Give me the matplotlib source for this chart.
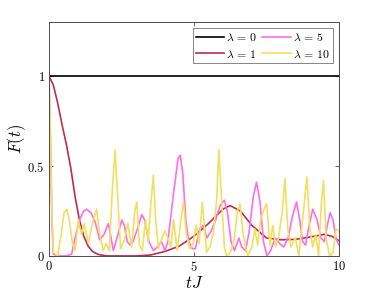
import numpy as np
import matplotlib
matplotlib.use('Agg')
import matplotlib.pyplot as plt
from matplotlib.ticker import FuncFormatter

plt.rcParams['mathtext.fontset'] = 'cm'
plt.rcParams['font.family'] = ['DejaVu Serif']

#%% Data

# lambda = 0 : flat at 1
t_l0 = [0, 10]
f_l0 = [1, 1]

# lambda = 1
t_l1 = [0, 0.15, 0.3, 0.45, 0.6, 0.75, 0.9, 1.05, 1.2, 1.35, 1.5, 1.7, 2.0, 2.5, 3.0, 3.5,
        4.0, 4.5, 5.0, 5.5, 6.0, 6.25, 6.6, 7.0, 7.5, 8.0, 8.5, 9.0, 9.5, 9.75, 10.0]
f_l1 = [1.0, 0.95, 0.85, 0.73, 0.62, 0.49, 0.33, 0.2, 0.11, 0.055, 0.025, 0.008, 0.0, 0.0, 0.0, 0.005,
        0.025, 0.055, 0.11, 0.18, 0.26, 0.28, 0.25, 0.17, 0.1, 0.09, 0.092, 0.105, 0.12, 0.11, 0.085]

# lambda = 5
t_l5 = [0, 0.05, 0.1, 0.15, 0.3, 0.6, 0.78, 0.9, 1.05, 1.2, 1.3, 1.45, 1.59, 1.75, 1.9, 2.05,
        2.12, 2.22, 2.38, 2.51, 2.6, 2.7, 2.8, 2.9, 3.05, 3.2, 3.3, 3.45, 3.6, 3.75, 3.88, 4.0,
        4.1, 4.3, 4.45, 4.53, 4.62, 4.72, 4.82, 4.95, 5.05, 5.2, 5.32, 5.45, 5.6, 5.75, 5.9, 6.05,
        6.15, 6.28, 6.4, 6.55, 6.65, 6.78, 6.9, 7.05, 7.16, 7.28, 7.4, 7.52, 7.65, 7.8, 7.95, 8.1,
        8.25, 8.4, 8.54, 8.65, 8.75, 8.85, 8.95, 9.1, 9.25, 9.38, 9.5, 9.6, 9.7, 9.8, 9.9, 10.0]
f_l5 = [1, 0.65, 0.2, 0.01, 0.0, 0.0, 0.01, 0.1, 0.2, 0.25, 0.26, 0.24, 0.19, 0.09, 0.12, 0.18,
        0.12, 0.03, 0.12, 0.2, 0.17, 0.08, 0.06, 0.08, 0.15, 0.23, 0.2, 0.08, 0.03, 0.05, 0.08, 0.03,
        0.08, 0.35, 0.54, 0.56, 0.45, 0.2, 0.08, 0.04, 0.04, 0.15, 0.17, 0.1, 0.14, 0.2, 0.28, 0.31,
        0.25, 0.08, 0.03, 0.1, 0.05, 0.03, 0.13, 0.33, 0.41, 0.3, 0.08, 0.0, 0.03, 0.1, 0.07, 0.05,
        0.1, 0.22, 0.3, 0.2, 0.08, 0.06, 0.15, 0.26, 0.2, 0.1, 0.08, 0.17, 0.24, 0.2, 0.1, 0.06]

# lambda = 10
t_l10 = [0, 0.05, 0.1, 0.15, 0.3, 0.42, 0.52, 0.61, 0.7, 0.8, 0.9, 1.01, 1.12, 1.21, 1.36, 1.5,
         1.64, 1.75, 1.87, 1.97, 2.08, 2.18, 2.28, 2.38, 2.47, 2.6, 2.72, 2.85, 2.96, 3.03, 3.12, 3.22,
         3.33, 3.42, 3.52, 3.6, 3.68, 3.78, 3.9, 4.0, 4.1, 4.2, 4.3, 4.42, 4.55, 4.64, 4.74, 4.86,
         4.97, 5.08, 5.18, 5.29, 5.44, 5.55, 5.67, 5.78, 5.86, 5.96, 6.05, 6.13, 6.26, 6.4, 6.5, 6.59,
         6.7, 6.85, 7.0, 7.1, 7.2, 7.3, 7.42, 7.51, 7.62, 7.72, 7.82, 7.92, 8.05, 8.14, 8.24, 8.35,
         8.5, 8.62, 8.78, 8.9, 9.0, 9.1, 9.2, 9.3, 9.4, 9.47, 9.56, 9.68, 9.8, 9.9, 10.0]
f_l10 = [1, 0.7, 0.25, 0.02, 0.0, 0.12, 0.24, 0.26, 0.2, 0.08, 0.03, 0.2, 0.12, 0.18, 0.07, 0.18,
         0.26, 0.12, 0.03, 0.07, 0.03, 0.35, 0.59, 0.3, 0.04, 0.09, 0.18, 0.05, 0.25, 0.3, 0.06, 0.03,
         0.2, 0.08, 0.3, 0.45, 0.2, 0.04, 0.1, 0.14, 0.1, 0.05, 0.2, 0.03, 0.2, 0.3, 0.12, 0.04,
         0.07, 0.17, 0.07, 0.3, 0.02, 0.05, 0.13, 0.3, 0.59, 0.3, 0.05, 0.0, 0.02, 0.1, 0.25, 0.29,
         0.12, 0.0, 0.05, 0.15, 0.06, 0.2, 0.26, 0.29, 0.06, 0.17, 0.05, 0.1, 0.25, 0.43, 0.15, 0.05,
         0.1, 0.0, 0.25, 0.44, 0.15, 0.05, 0.12, 0.0, 0.3, 0.42, 0.1, 0.0, 0.02, 0.15, 0.14]

series = [
    (t_l0, f_l0, '#000000', r'$\lambda\, =\, 0$'),
    (t_l1, f_l1, '#b8304f', r'$\lambda\, =\, 1$'),
    (t_l5, f_l5, '#ff6ee8', r'$\lambda\, =\, 5$'),
    (t_l10, f_l10, '#f0e060', r'$\lambda\, =\, 10$'),
]

#%% Plot

fig = plt.figure(figsize=(3.74, 2.99), dpi=100)
ax = fig.add_axes([0.131, 0.144, 0.775, 0.782])

for t, f, color, label in series:
    ax.plot(t, f, color=color, lw=1.2, label=label)

ax.set_xlim(0, 10)
ax.set_ylim(0, 1.3)
ax.set_xticks([0, 5, 10])
ax.set_yticks([0, 0.5, 1])
fmt = FuncFormatter(lambda v, pos: '$%g$' % v)
ax.xaxis.set_major_formatter(fmt)
ax.yaxis.set_major_formatter(fmt)
ax.tick_params(direction='in', top=True, right=True, labelsize=9, length=3,
               width=0.6, color='0.3', pad=3)
for sp in ax.spines.values():
    sp.set_color('0.3')
    sp.set_linewidth(0.7)

ax.set_xlabel(r'$tJ$', fontsize=12, labelpad=1)
ax.set_ylabel(r'$F(t)$', fontsize=12)
ax.yaxis.set_label_coords(-0.072, 0.5)

leg = ax.legend(ncol=2, loc='upper right', fontsize=8.5, frameon=True, fancybox=False,
                edgecolor='0.4', handlelength=2.4, handletextpad=0.2, columnspacing=0.4,
                labelspacing=0.3, borderpad=0.25, borderaxespad=0.5)
leg.get_frame().set_linewidth(0.7)

plt.savefig('out.png', dpi=100)
